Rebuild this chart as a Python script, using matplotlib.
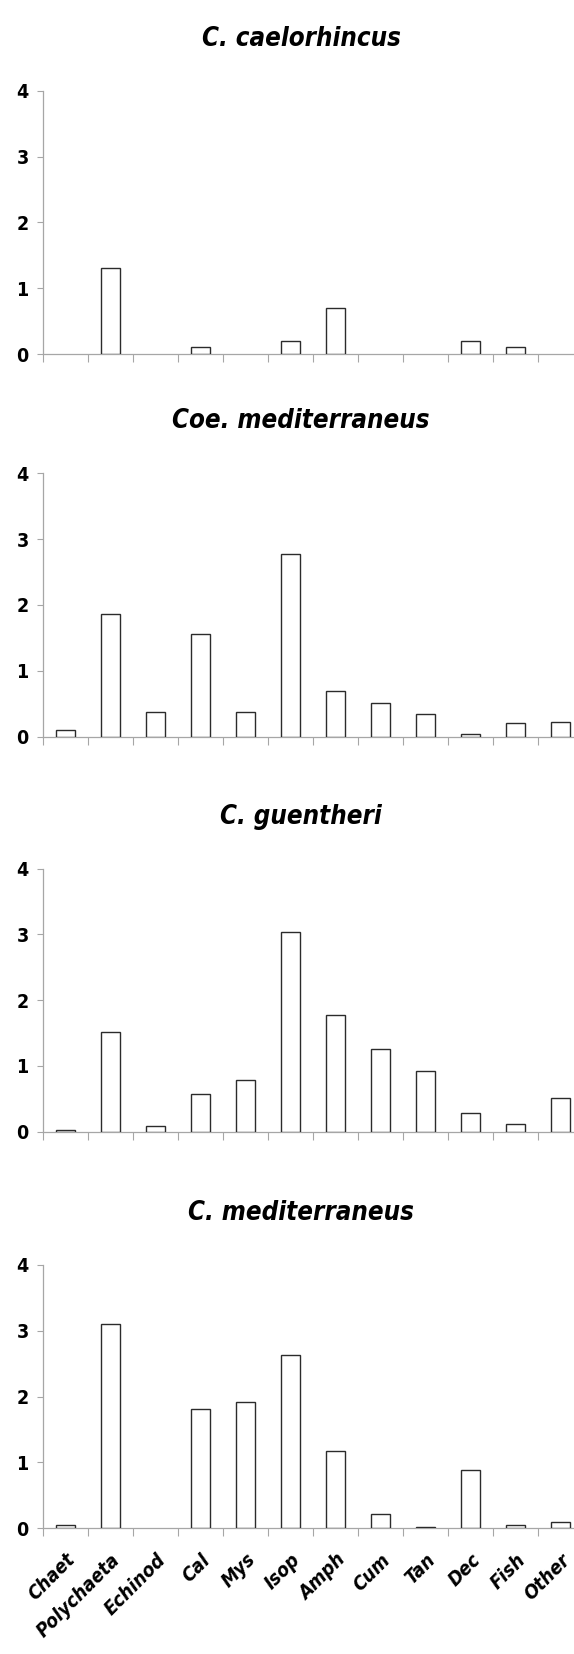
import matplotlib
matplotlib.use("Agg")
import matplotlib.pyplot as plt
from matplotlib import font_manager as fm
import numpy as np

categories = ["Chaet", "Polychaeta", "Echinod", "Cal", "Mys", "Isop", "Amph",
              "Cum", "Tan", "Dec", "Fish", "Other"]

titles = ["C. caelorhincus", "Coe. mediterraneus", "C. guentheri", "C. mediterraneus"]

c_caelorhincus = [0, 1.31, 0, 0.10, 0, 0.20, 0.70, 0, 0, 0.20, 0.10, 0]
coe_mediterraneus = [0.10, 1.87, 0.38, 1.56, 0.37, 2.77, 0.70, 0.51, 0.35, 0.035, 0.21, 0.23]
c_guentheri = [0.02, 1.52, 0.09, 0.57, 0.79, 3.04, 1.77, 1.26, 0.92, 0.28, 0.12, 0.52]
c_mediterraneus = [0.046, 3.11, 0, 1.81, 1.91, 2.63, 1.17, 0.22, 0.015, 0.88, 0.046, 0.086]

series = [c_caelorhincus, coe_mediterraneus, c_guentheri, c_mediterraneus]
yticks = [0, 1, 2, 3, 4]


def find_font(bold, italic):
    """Look for a narrow/condensed installed font file."""
    cands = []
    for f in fm.fontManager.ttflist:
        name = f.name.lower()
        path = f.fname.lower()
        narrow = ("narrow" in name or "condensed" in name or "narrow" in path
                  or "condensed" in path or str(f.stretch) in ("condensed", "semi-condensed"))
        if not narrow:
            continue
        w = f.weight if isinstance(f.weight, int) else (700 if "bold" in str(f.weight) else 400)
        is_bold = w >= 600 or "bold" in path
        is_it = f.style in ("italic", "oblique") or "italic" in path or "oblique" in path
        score = 0
        score += 0 if is_bold == bold else 5
        score += 0 if is_it == italic else 3
        if "liberation" in path:
            score -= 0.5
        elif "dejavu" in path:
            score -= 0.2
        cands.append((score, f.fname))
    if cands:
        cands.sort()
        return fm.FontProperties(fname=cands[0][1])
    return None


fp_title = find_font(True, True)
fp_ytick = find_font(True, False)
fp_xtick = find_font(True, True)
fallback = fp_title is None
if fallback:
    fp_title = fm.FontProperties(family="DejaVu Sans", weight="bold", style="italic")
    fp_ytick = fm.FontProperties(family="DejaVu Sans", weight="bold")
    fp_xtick = fm.FontProperties(family="DejaVu Sans", weight="bold", style="italic")

W, H = 574, 1654
fig = plt.figure(figsize=(W / 100, H / 100), dpi=100)

ax_left = 43.3
ax_width = 540
y4s = [90.7, 473.3, 868.7, 1265]
y0s = [354, 736.7, 1131.7, 1528]
gray = "#a6a6a6"

x = np.arange(len(categories))
for i, (vals, title) in enumerate(zip(series, titles)):
    y0 = y0s[i]
    y4 = y4s[i]
    ax = fig.add_axes([ax_left / W, 1 - y0 / H, ax_width / W, (y0 - y4) / H])
    bars = ax.bar(x, vals, width=0.42, color="white", edgecolor="#2b2b2b",
                  linewidth=1.0, zorder=3)
    for b, v in zip(bars, vals):
        if v == 0:
            b.set_visible(False)
    ax.set_xlim(-0.5, len(categories) - 0.5)
    ax.set_ylim(0, 4)
    ax.set_yticks(yticks)
    ax.set_yticklabels([str(t) for t in yticks])
    for lab in ax.get_yticklabels():
        lab.set_fontproperties(fp_ytick)
        lab.set_fontsize(14 if not fallback else 12)
    for s in ["top", "right"]:
        ax.spines[s].set_visible(False)
    for s in ["left", "bottom"]:
        ax.spines[s].set_color(gray)
        ax.spines[s].set_linewidth(0.9)
    ax.tick_params(axis="y", direction="out", length=4.5, width=0.8, color=gray, pad=6)
    ax.set_xticks(np.arange(len(categories) + 1) - 0.5)
    ax.set_xticklabels([])
    ax.tick_params(axis="x", direction="out", length=6, width=0.8, color=gray)
    ax.set_xticks(x, minor=True)
    ax.tick_params(axis="x", which="minor", length=0)
    if i == len(series) - 1:
        ax.set_xticklabels(categories, minor=True, rotation=45, ha="right",
                           rotation_mode="anchor")
        for lab in ax.get_xticklabels(minor=True):
            lab.set_fontproperties(fp_xtick)
            lab.set_fontsize(14 if not fallback else 11)
        ax.tick_params(axis="x", which="minor", pad=16)
    ax.set_facecolor("none")
    t = fig.text(301 / W, 1 - (y4 - 45) / H, title, ha="center", va="baseline",
                 fontproperties=fp_title)
    t.set_fontsize(18.5 if not fallback else 15)

fig.savefig("out.png", dpi=100)
